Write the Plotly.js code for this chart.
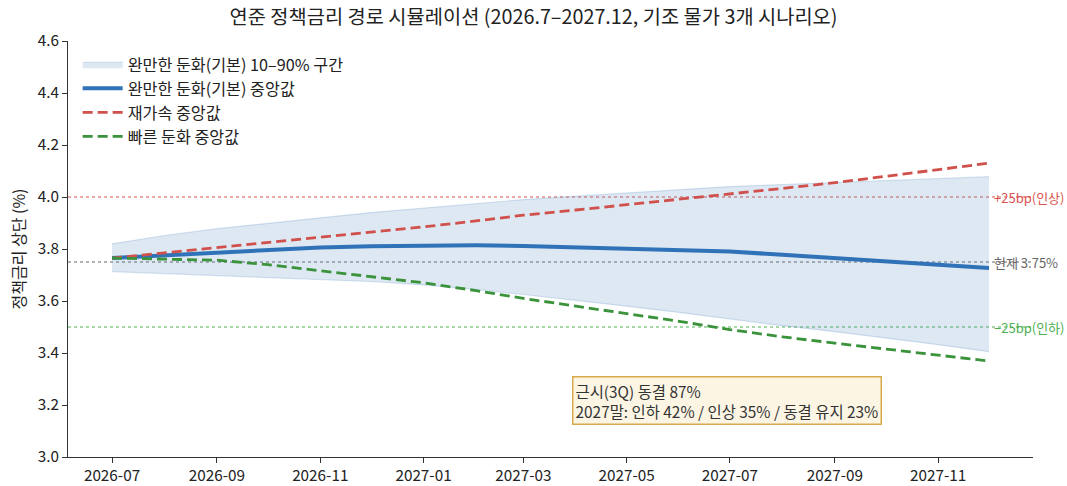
<!DOCTYPE html>
<html>
<head>
<meta charset="utf-8">
<script src="https://cdn.plot.ly/plotly-3.0.1.min.js"></script>
<style>html,body{margin:0;padding:0;background:#fff;}#chart{width:1067px;height:486px;}</style>
</head>
<body>
<div id="chart"></div>
<script>
const months = ["2026-07-01","2026-08-01","2026-09-01","2026-10-01","2026-11-01","2026-12-01",
  "2027-01-01","2027-02-01","2027-03-01","2027-04-01","2027-05-01","2027-06-01",
  "2027-07-01","2027-08-01","2027-09-01","2027-10-01","2027-11-01","2027-12-01"];
const baseMedian = [3.765,3.775,3.787,3.797,3.806,3.811,3.813,3.814,3.812,3.807,3.803,3.796,3.790,3.778,3.766,3.752,3.740,3.727];
const baseP90 = [3.820,3.852,3.878,3.900,3.920,3.940,3.958,3.975,3.990,4.003,4.016,4.028,4.040,4.048,4.055,4.062,4.070,4.078];
const baseP10 = [3.713,3.705,3.698,3.690,3.682,3.675,3.662,3.645,3.625,3.603,3.580,3.556,3.530,3.505,3.482,3.458,3.432,3.405];
const reaccelMedian = [3.765,3.785,3.805,3.825,3.845,3.865,3.885,3.908,3.930,3.950,3.970,3.990,4.010,4.033,4.055,4.080,4.105,4.130];
const fastMedian = [3.765,3.762,3.757,3.740,3.717,3.695,3.670,3.640,3.610,3.580,3.552,3.522,3.490,3.462,3.438,3.415,3.392,3.369];
const tickDates = ["2026-07-01","2026-09-01","2026-11-01","2027-01-01","2027-03-01","2027-05-01","2027-07-01","2027-09-01","2027-11-01"];
const tickLabels = ["2026-07","2026-09","2026-11","2027-01","2027-03","2027-05","2027-07","2027-09","2027-11"];
const refLevels = [4.0, 3.75, 3.5];
const refLabels = ["+25bp(인상)", "현재 3.75%", "−25bp(인하)"];
const refColors = ["#d9534f", "#666666", "#4caf50"];
const names = ["완만한 둔화(기본) 10–90% 구간","완만한 둔화(기본) 중앙값","재가속 중앙값","빠른 둔화 중앙값"];
const noteText = "근시(3Q) 동결 87%<br>2027말: 인하 42% / 인상 35% / 동결 유지 23%";

const FONT = "Noto Sans CJK KR, Noto Sans, sans-serif";
const traces = [
  {x: months, y: baseP90, mode: "lines", line: {color: "rgba(70,130,190,0.22)", width: 1.2}, showlegend: false, hoverinfo: "skip"},
  {x: months, y: baseP10, mode: "lines", fill: "tonexty", fillcolor: "rgba(70,130,190,0.18)",
   line: {color: "rgba(70,130,190,0.22)", width: 1.2}, name: names[0]},
  {x: months, y: baseMedian, mode: "lines", line: {color: "#2f72b8", width: 4}, name: names[1]},
  {x: months, y: reaccelMedian, mode: "lines", line: {color: "#d0504c", width: 2.8, dash: "10px,5px"}, name: names[2]},
  {x: months, y: fastMedian, mode: "lines", line: {color: "#3a933a", width: 2.8, dash: "10px,5px"}, name: names[3]}
];

const shapes = refLevels.map((v, i) => ({
  type: "line", xref: "paper", x0: 0, x1: 1, yref: "y", y0: v, y1: v,
  line: {color: refColors[i], width: 1.2, dash: "dot"}, layer: "below"
}));
const annotations = refLevels.map((v, i) => ({
  x: months[months.length - 1], y: v, xref: "x", yref: "y", text: refLabels[i],
  showarrow: false, xanchor: "left", yanchor: "middle", xshift: 3,
  font: {family: FONT, size: 13, color: refColors[i]}
}));
annotations.push({
  xref: "paper", yref: "paper", x: 0.522, y: 0.077, xanchor: "left", yanchor: "bottom",
  text: noteText, showarrow: false, align: "left",
  font: {family: FONT, size: 15.4, color: "#333"},
  bgcolor: "rgba(250,238,210,0.6)", bordercolor: "#d6aa4c", borderwidth: 1.5, borderpad: 2
});

const layout = {
  width: 1067, height: 486,
  margin: {l: 68, r: 34, t: 41, b: 29},
  paper_bgcolor: "#fff", plot_bgcolor: "#fff",
  font: {family: FONT, size: 15, color: "#222"},
  title: {text: "연준 정책금리 경로 시뮬레이션 (2026.7–2027.12, 기조 물가 3개 시나리오)",
          x: 0.5, xanchor: "center", y: 0.965, yanchor: "middle", font: {family: FONT, size: 19.8, color: "#222"}},
  xaxis: {type: "date", range: ["2026-06-05", "2027-12-27"], tickvals: tickDates, ticktext: tickLabels,
          showgrid: false, zeroline: false, showline: true, linecolor: "#333", linewidth: 1,
          ticks: "outside", ticklen: 5, tickcolor: "#333", tickfont: {family: FONT, size: 15.3, color: "#222"}},
  yaxis: {range: [3.0, 4.6], tickvals: [3.0,3.2,3.4,3.6,3.8,4.0,4.2,4.4,4.6], tickformat: ".1f",
          showgrid: false, zeroline: false, showline: true, linecolor: "#333", linewidth: 1,
          ticks: "outside", ticklen: 5, tickcolor: "#333", tickfont: {family: FONT, size: 15.3, color: "#222"},
          title: {text: "정책금리 상단 (%)", font: {family: FONT, size: 16, color: "#222"}, standoff: 8}},
  legend: {x: 0.01, y: 0.985, xanchor: "left", yanchor: "top", bgcolor: "rgba(255,255,255,0)",
           traceorder: "normal",
           font: {family: FONT, size: 16.2, color: "#222"}, tracegroupgap: 0, itemwidth: 40},
  shapes: shapes,
  annotations: annotations
};
Plotly.newPlot("chart", traces, layout, {displayModeBar: false, staticPlot: true});
</script>
</body>
</html>
